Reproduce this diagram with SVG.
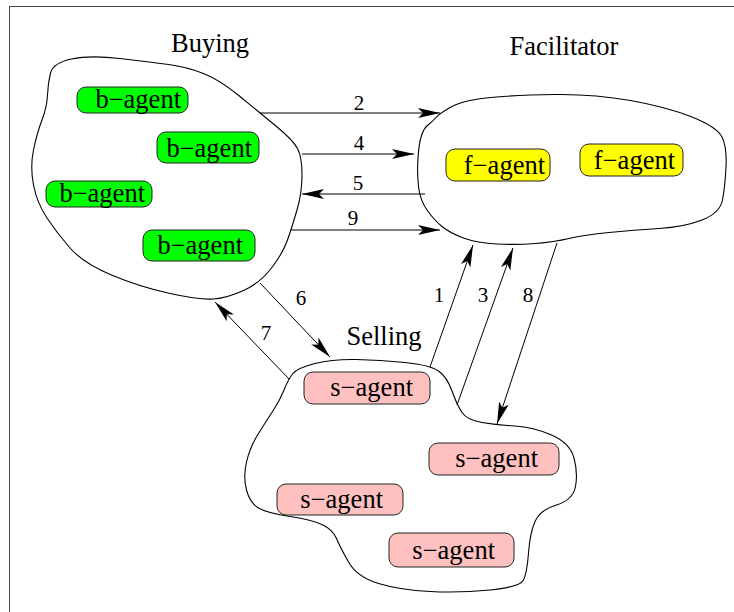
<svg xmlns="http://www.w3.org/2000/svg" width="734" height="612" viewBox="0 0 734 612">
<defs>
<marker id="ah" markerUnits="userSpaceOnUse" markerWidth="30" markerHeight="14" refX="0" refY="0" viewBox="-24 -7 26 14" orient="auto" overflow="visible">
<path d="M0,0 L-22,-5 L-17,0 L-22,5 Z" fill="#000"/>
</marker>
</defs>
<style>
.blob{fill:#fff;stroke:#000;stroke-width:1.1}
.box{stroke:#222;stroke-width:1}
.g{fill:#00ff00}.y{fill:#ffff00}.p{fill:#ffc0c0}
.t{font-family:"Liberation Serif","Times New Roman",serif;font-size:26.5px;fill:#000}
.at{text-anchor:end}
.n{font-family:"Liberation Serif","Times New Roman",serif;font-size:21px;fill:#000;text-anchor:middle}
.c{stroke:#000;stroke-width:1;fill:none}
.a{marker-end:url(#ah)}
</style>
<rect x="9.5" y="6.5" width="760" height="700" fill="#fff" stroke="#444" stroke-width="1"/>

<g id="buying">
<path class="blob" d="M50.5,73 Q53,63 71.5,59 Q90,55 120,58.5 Q150,62 168.5,64.5 Q187,67 203.5,73.5 Q220,80 240,96.5 Q260,113 276.5,126.5 Q293,140 297.5,148.5 Q302,157 302,175 Q302,193 297,210 Q292,227 287.5,240 Q283,253 271.5,268 Q260,283 243.5,290.5 Q227,298 213.5,299 Q200,300 170,293.5 Q140,287 111.5,275 Q83,263 70,248 Q57,233 47,218 Q37,203 33.5,185 Q30,167 33.5,150 Q37,133 42,120 Q47,107 47.5,95 Q48,83 50.5,73 Z"/>
<text class="t" x="210" y="52" text-anchor="middle">Buying</text>
</g>
<g id="facilitator">
<path class="blob" d="M436,117.5 Q440,113 452,106.5 Q464,100 490.5,97.5 Q517,95 555.5,94.5 Q594,94 630.5,100.5 Q667,107 692,117 Q717,127 722,137 Q727,147 726,167 Q725,187 722.5,200 Q720,213 702,220 Q684,227 659,228.5 Q634,230 609,232.5 Q584,235 569,238.5 Q554,242 535.5,243.5 Q517,245 497,244 Q477,243 463.5,238 Q450,233 442,226.5 Q434,220 427,210 Q420,200 418.5,186.5 Q417,173 418,158 Q419,143 421.5,135.5 Q424,128 428,125 Q432,122 436,117.5 Z"/>
<text class="t" x="564" y="55" text-anchor="middle">Facilitator</text>
</g>
<g id="selling">
<path class="blob" d="M292.5,374 Q297,368 315,363.5 Q333,359 356.5,359.5 Q380,360 405,362.5 Q430,365 438.5,371 Q447,377 452,391 Q457,405 462,412.5 Q467,420 482,422.5 Q497,425 515,426 Q533,427 551.5,435 Q570,443 574,458 Q578,473 575.5,486.5 Q573,500 556.5,505 Q540,510 535,521.5 Q530,533 528.5,553 Q527,573 523.5,580 Q520,587 490,590 Q460,593 430,591.5 Q400,590 378.5,583.5 Q357,577 348.5,562 Q340,547 336.5,538.5 Q333,530 323,525 Q313,520 290,516.5 Q267,513 258.5,508 Q250,503 246.5,490 Q243,477 246.5,462 Q250,447 258.5,433.5 Q267,420 273.5,410 Q280,400 284,390 Q288,380 292.5,374 Z"/>
<text class="t" x="384" y="345" text-anchor="middle">Selling</text>
</g>

<g id="b-agent-1"><rect class="box g" x="77" y="87" width="111" height="26" rx="9"/><text class="t at" x="181" y="108">b−agent</text></g>
<g id="b-agent-2"><rect class="box g" x="157" y="132" width="102" height="31" rx="9"/><text class="t at" x="252" y="157">b−agent</text></g>
<g id="b-agent-3"><rect class="box g" x="46" y="181" width="106" height="26" rx="9"/><text class="t at" x="145" y="202">b−agent</text></g>
<g id="b-agent-4"><rect class="box g" x="143" y="230" width="112" height="31" rx="9"/><text class="t at" x="243" y="254">b−agent</text></g>

<g id="f-agent-1"><rect class="box y" x="446" y="149" width="104" height="32" rx="9"/><text class="t at" x="545" y="174">f−agent</text></g>
<g id="f-agent-2"><rect class="box y" x="580" y="144" width="103" height="32" rx="9"/><text class="t at" x="675" y="169">f−agent</text></g>

<g id="s-agent-1"><rect class="box p" x="304" y="372" width="126" height="32" rx="9"/><text class="t at" x="413" y="396">s−agent</text></g>
<g id="s-agent-2"><rect class="box p" x="429" y="443" width="130" height="32" rx="9"/><text class="t at" x="538" y="467">s−agent</text></g>
<g id="s-agent-3"><rect class="box p" x="277" y="484" width="126" height="31" rx="9"/><text class="t at" x="383" y="508">s−agent</text></g>
<g id="s-agent-4"><rect class="box p" x="389" y="533" width="125" height="34" rx="9"/><text class="t at" x="495" y="559">s−agent</text></g>

<g id="connectors">
<line class="c a" x1="260" y1="113" x2="440" y2="113"/>
<line class="c a" x1="302" y1="154" x2="414" y2="154"/>
<line class="c a" x1="425" y1="194" x2="302" y2="194"/>
<line class="c a" x1="291" y1="230" x2="440" y2="230"/>
<line class="c a" x1="260" y1="283" x2="330" y2="357"/>
<line class="c a" x1="289" y1="379" x2="215" y2="302"/>
<line class="c a" x1="430" y1="367" x2="473" y2="245"/>
<line class="c a" x1="457" y1="405" x2="513" y2="248"/>
<line class="c a" x1="557" y1="243" x2="497" y2="424"/>
<text class="n" x="359" y="110">2</text>
<text class="n" x="359" y="150">4</text>
<text class="n" x="358" y="190">5</text>
<text class="n" x="353" y="225">9</text>
<text class="n" x="301" y="305">6</text>
<text class="n" x="266" y="340">7</text>
<text class="n" x="439" y="302">1</text>
<text class="n" x="483" y="302">3</text>
<text class="n" x="528" y="302">8</text>
</g>
</svg>
